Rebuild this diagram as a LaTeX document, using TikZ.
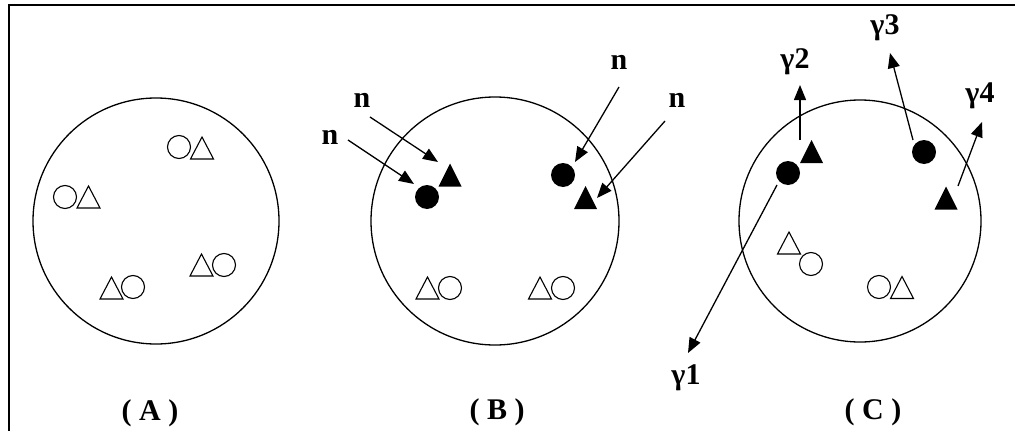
\documentclass[tikz,border=0pt]{standalone}
\usepackage{fontspec}
\setmainfont{Liberation Serif}
\usetikzlibrary{arrows.meta}
\tikzset{
  big/.style={draw, line width=1.3pt},
  ocirc/.style={circle, draw, line width=1.1pt, minimum size=23pt, inner sep=0pt},
  fcirc/.style={circle, fill=black, minimum size=24pt, inner sep=0pt},
  otri/.pic={\draw[line width=1.1pt, line join=miter] (-11.5,11) -- (11.5,11) -- (0,-11) -- cycle;},
  ftri/.pic={\fill (-11.5,11.5) -- (11.5,11.5) -- (0,-11.5) -- cycle;},
  ray/.style={line width=1.3pt, -{Triangle[length=15pt,width=12pt]}},
  lab/.style={font=\bfseries\fontsize{30}{34}\selectfont, inner sep=0pt}
}
\begin{document}
\begin{tikzpicture}[x=1pt,y=-1pt]
\useasboundingbox (0,0) rectangle (1015,431);
% frame
\coordinate (fl) at (9,431);
\coordinate (ftl) at (9,5);
\coordinate (fr) at (1015,5);
\draw[line width=2.6pt] (fl) -- (ftl) -- (fr);
% big circles
\node[big, circle, minimum size=246pt, inner sep=0pt] (A) at (156,221) {};
\node[big, circle, minimum size=248pt, inner sep=0pt] (B) at (495,221) {};
\node[big, circle, minimum size=242pt, inner sep=0pt] (C) at (860,221) {};
% A shapes
\node[ocirc] (a1c) at (179,147) {};
\pic at (202,148) {otri};
\node[ocirc] (a2c) at (65,197) {};
\pic at (88.5,197) {otri};
\pic at (201.5,265) {otri};
\node[ocirc] (a3c) at (224,265) {};
\pic at (111.5,288) {otri};
\node[ocirc] (a4c) at (133,287) {};
% B shapes
\node[fcirc] (b1) at (427,197) {};
\pic at (450,175) {ftri};
\node[fcirc] (b2) at (563,175) {};
\pic at (585.5,197.5) {ftri};
\pic at (427.5,288) {otri};
\node[ocirc] (b3c) at (450,288) {};
\pic at (540,288) {otri};
\node[ocirc] (b4c) at (563,288) {};
% B arrows
\coordinate (n1s) at (370,117); \coordinate (n1e) at (438,162);
\coordinate (n2s) at (348,140); \coordinate (n2e) at (414,184);
\coordinate (n3s) at (619,87);  \coordinate (n3e) at (575,162);
\coordinate (n4s) at (665,121); \coordinate (n4e) at (597,198);
\draw[ray] (n1s) -- (n1e);
\draw[ray] (n2s) -- (n2e);
\draw[ray] (n3s) -- (n3e);
\draw[ray] (n4s) -- (n4e);
\node[lab] (n1) at (362,100) {n};
\node[lab] (n2) at (330,137) {n};
\node[lab] (n3) at (619,62) {n};
\node[lab] (n4) at (677,100) {n};
% C shapes
\pic at (811.5,151.5) {ftri};
\node[fcirc] (c1) at (788,173) {};
\node[fcirc] (c2) at (924,152) {};
\pic at (946,198) {ftri};
\pic at (789,243) {otri};
\node[ocirc] (c3c) at (811,264) {};
\node[ocirc] (c4c) at (879,287) {};
\pic at (902,287.5) {otri};
% C arrows
\coordinate (g2s) at (800,140); \coordinate (g2e) at (800,85);
\coordinate (g3s) at (913,140); \coordinate (g3e) at (890,53);
\coordinate (g4s) at (958,186); \coordinate (g4e) at (982,122);
\coordinate (g1s) at (777,185); \coordinate (g1e) at (688,353);
\draw[ray] (g2s) -- (g2e);
\draw[ray] (g3s) -- (g3e);
\draw[ray] (g4s) -- (g4e);
\draw[ray] (g1s) -- (g1e);
\node[lab] (g2) at (795,62) {γ2};
\node[lab] (g3) at (885,28) {γ3};
\node[lab] (g4) at (980,96) {γ4};
\node[lab] (g1) at (686,378) {γ1};
% captions
\node[lab] (la) at (150,413) {( A )};
\node[lab] (lb) at (497,412) {( B )};
\node[lab] (lc) at (873,412) {( C )};
\end{tikzpicture}
\end{document}
